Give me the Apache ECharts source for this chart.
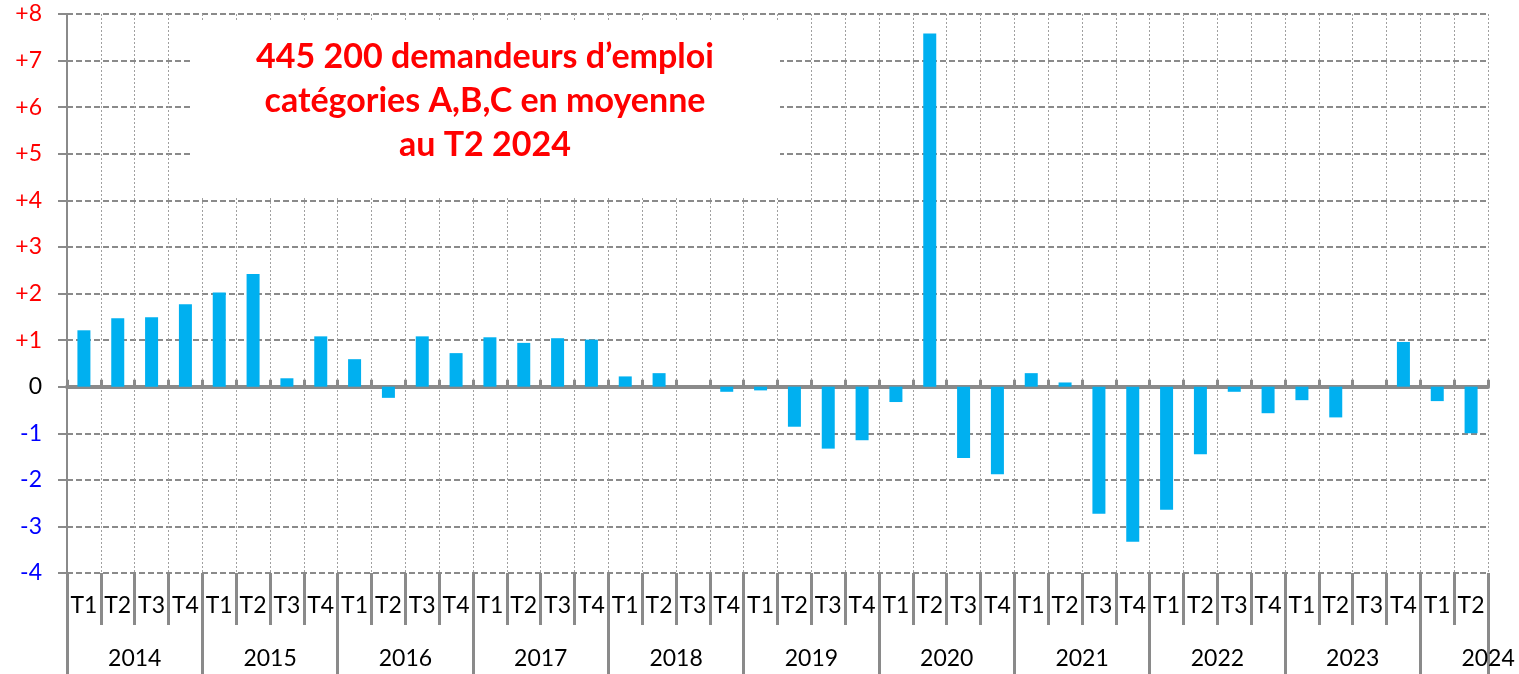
<!DOCTYPE html>
<html>
<head>
<meta charset="utf-8">
<script src="https://cdn.jsdelivr.net/npm/echarts@6/dist/echarts.min.js"></script>
<style>
  html, body { margin: 0; padding: 0; background: #fff; }
  #chart { width: 1519px; height: 674px; }
</style>
</head>
<body>
<div id="chart"></div>
<script>
// quarters 2014 T1 .. 2024 T2
const quarters = [
  'T1', 'T2', 'T3', 'T4', 'T1', 'T2', 'T3', 'T4', 'T1', 'T2', 'T3', 'T4',
  'T1', 'T2', 'T3', 'T4', 'T1', 'T2', 'T3', 'T4', 'T1', 'T2', 'T3', 'T4',
  'T1', 'T2', 'T3', 'T4', 'T1', 'T2', 'T3', 'T4', 'T1', 'T2', 'T3', 'T4',
  'T1', 'T2', 'T3', 'T4', 'T1', 'T2'
]
const years = ['2014', '2015', '2016', '2017', '2018', '2019', '2020', '2021', '2022', '2023', '2024']
// evolution trimestrielle (en %)
const values = [
  1.21, 1.47, 1.49, 1.77, 2.02, 2.42, 0.18, 1.08,
  0.59, -0.24, 1.08, 0.72, 1.06, 0.94, 1.04, 1.01,
  0.22, 0.29, 0, -0.11, -0.08, -0.86, -1.33, -1.15,
  -0.33, 7.58, -1.53, -1.88, 0.29, 0.09, -2.73, -3.33,
  -2.64, -1.45, -0.11, -0.57, -0.29, -0.66, 0, 0.96,
  -0.31, -1.0
]
const yTicks = { min: -4, max: 8, step: 1 }
const titleLines = ['445 200 demandeurs d\u2019emploi', 'cat\u00e9gories A,B,C en moyenne', 'au T2 2024']

// one year label per quarter, shown only once per year
const yearOfQuarter = quarters.map((q, i) => years[Math.floor(i / 4)])

const gray = '#8a8a8a'
const font = 'Lato, "Open Sans", sans-serif'

const chart = echarts.init(document.getElementById('chart'))
chart.setOption({
  animation: false,
  grid: { left: 67, right: 31, top: 14, bottom: 101 },
  xAxis: [
    {
      // zero line
      type: 'category',
      data: quarters,
      axisLine: { onZero: true, lineStyle: { color: gray, width: 4 } },
      axisTick: { show: true, inside: true, interval: 0, length: 7, lineStyle: { color: gray, width: 3 } },
      axisLabel: { show: false, interval: 0 },
      splitLine: { show: true, interval: 0, lineStyle: { color: '#a0a0a0', width: 1, type: [2, 2] } }
    },
    {
      // quarter labels
      type: 'category',
      position: 'bottom',
      data: quarters,
      axisLine: { show: true, onZero: false, lineStyle: { color: 'rgba(0,0,0,0)', width: 0 } },
      axisTick: { show: true, interval: 0, length: 52, lineStyle: { color: gray, width: 3 } },
      axisLabel: { interval: 0, margin: 21, fontFamily: font, fontSize: 23, color: '#000' }
    },
    {
      // year labels
      type: 'category',
      position: 'bottom',
      data: yearOfQuarter,
      axisLine: { show: true, onZero: false, lineStyle: { color: 'rgba(0,0,0,0)', width: 0 } },
      axisTick: {
        show: true,
        length: 110,
        interval: (i) => i % 4 === 0,
        lineStyle: { color: gray, width: 3 }
      },
      axisLabel: {
        margin: 74,
        interval: (i) => i % 4 === 1,
        padding: [0, 0, 0, 34],
        fontFamily: font,
        fontSize: 23,
        color: '#000'
      }
    }
  ],
  yAxis: {
    type: 'value',
    min: yTicks.min,
    max: yTicks.max,
    interval: yTicks.step,
    axisLine: { show: true, lineStyle: { color: gray, width: 2 } },
    axisTick: { show: true, length: 9, lineStyle: { color: gray, width: 2 } },
    axisLabel: {
      margin: 25,
      fontFamily: font,
      fontSize: 23,
      formatter: (v) => (v > 0 ? '+' + v : String(v)),
      color: (v) => (v > 0 ? '#ff0000' : v < 0 ? '#0000ff' : '#000000')
    },
    splitLine: { lineStyle: { color: gray, width: 2, type: [6, 3] } }
  },
  graphic: [
    {
      type: 'rect',
      z: 1,
      shape: { x: 190, y: 20, width: 590, height: 178 },
      style: { fill: '#fff' }
    },
    {
      type: 'text',
      z: 3,
      x: 485,
      y: 101,
      style: {
        text: titleLines.join('\n'),
        fill: '#ff0000',
        font: 'bold 34px ' + font,
        lineHeight: 44,
        align: 'center',
        verticalAlign: 'middle'
      }
    }
  ],
  series: [{
    type: 'bar',
    xAxisIndex: 0,
    data: values,
    barWidth: 13,
    itemStyle: { color: '#00b0f0' }
  }]
})
</script>
</body>
</html>
